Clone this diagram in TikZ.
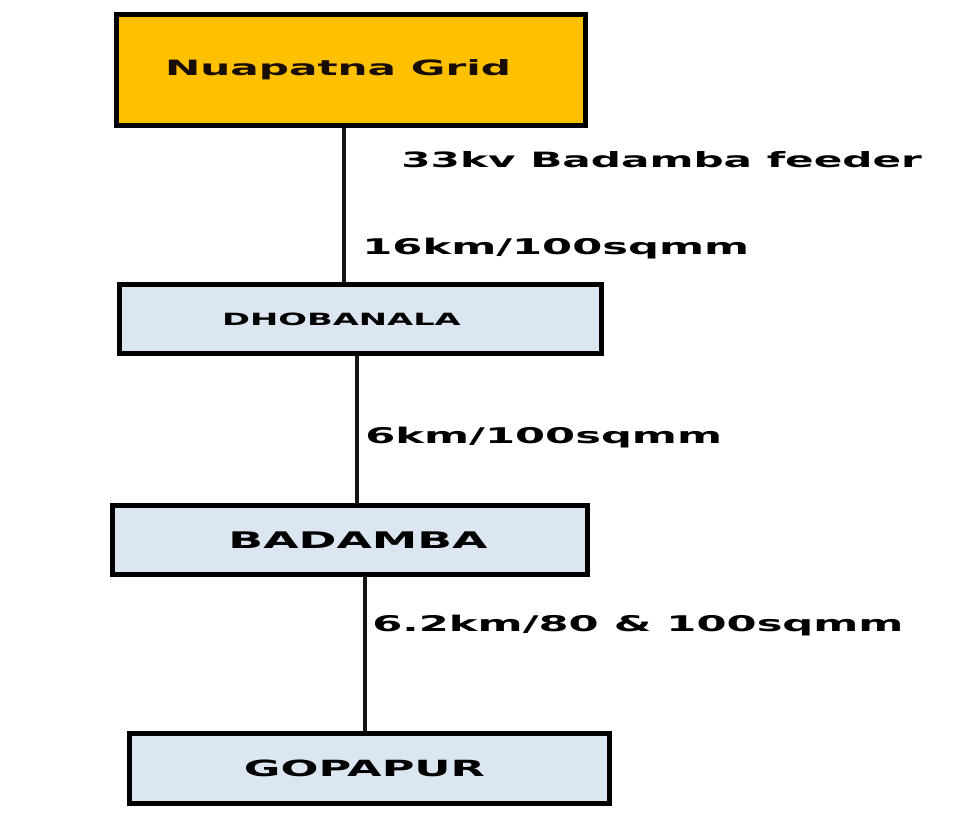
\documentclass[tikz,border=0pt]{standalone}
\usepackage{fontspec}
\usepackage{xcolor}
\usepackage{tikz}
\usetikzlibrary{positioning}
\newfontfamily\diagfont{DejaVu Sans Bold}[FakeStretch=2.0]
\definecolor{GridGold}{RGB}{255,192,0}
\definecolor{SubBlue}{RGB}{220,230,242}
\definecolor{LineGray}{RGB}{20,20,20}

\begin{document}
\begin{tikzpicture}[
    gridbox/.style={draw=black,fill=GridGold,line width=0.1cm,
                    minimum width=9.38cm,minimum height=2.22cm,
                    font=\diagfont\fontsize{12}{14}\selectfont,text=black!90!orange},
    subbox/.style={draw=black,fill=SubBlue,line width=0.1cm,
                   minimum width=9.6cm,minimum height=1.38cm,
                   font=\diagfont\fontsize{12.7}{14}\selectfont},
    feed/.style={LineGray,line width=0.09cm},
    lbl/.style={anchor=west,inner sep=0pt,font=\diagfont\fontsize{12.3}{14}\selectfont}]

    \useasboundingbox (0,0) rectangle (19.44,16.52);

    \node[gridbox] (grid) at (7.02,15.12) {Nuapatna Grid\kern0.52cm};
    \node[subbox,minimum width=9.64cm,font=\diagfont\fontsize{9.6}{11}\selectfont]
      (dhob) at (7.21,10.14) {DHOBANALA\kern0.76cm};
    \node[subbox,minimum width=9.5cm,font=\diagfont\fontsize{13}{15}\selectfont]
      (bada) at (7.0,5.72) {\hspace{0.32cm}BADAMBA};
    \node[subbox] (gopa) at (7.39,1.15) {GOPAPUR\kern0.2cm};

    \coordinate (f1) at (6.88,0);
    \coordinate (f2) at (7.14,0);
    \coordinate (f3) at (7.30,0);

    \draw[feed] (grid.south -| f1) -- (dhob.north -| f1);
    \draw[feed] (dhob.south -| f2) -- (bada.north -| f2);
    \draw[feed] (bada.south -| f3) -- (gopa.north -| f3);

    \node[lbl,font=\diagfont\fontsize{12}{14}\selectfont] (feeder) at (8.02,13.32) {33kv Badamba feeder};
    \node[lbl] (c1) at (7.24,11.55) {16km/100sqmm};
    \node[lbl] (c2) at (7.30,7.76)  {6km/100sqmm};
    \node[lbl] (c3) at (7.44,4.00)  {6.2km/80 \& 100sqmm};
  \end{tikzpicture}
\end{document}
